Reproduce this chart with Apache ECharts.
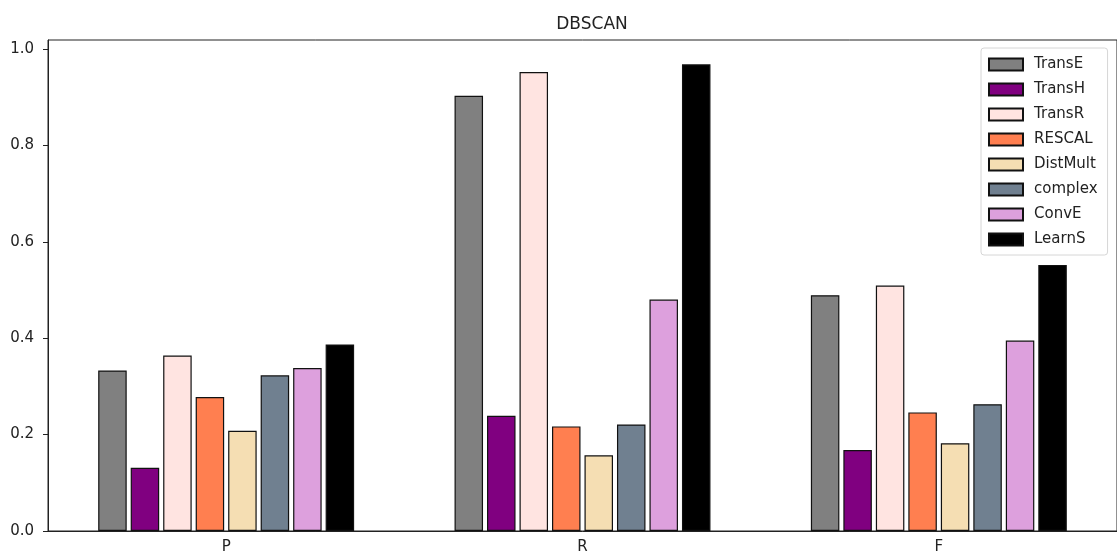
<!DOCTYPE html>
<html>
<head>
<meta charset="utf-8">
<title>DBSCAN</title>
<script src="https://cdn.jsdelivr.net/npm/echarts@6/dist/echarts.min.js"></script>
<style>
  html, body { margin: 0; padding: 0; background: #fff; }
  #chart { width: 1117px; height: 559px; }
</style>
</head>
<body>
<div id="chart"></div>
<script>
// Metrics on the x axis
const categories = ['P', 'R', 'F'];

// Scores per embedding method, in order P, R, F
const transE   = [0.333, 0.903, 0.489];
const transH   = [0.131, 0.239, 0.168];
const transR   = [0.364, 0.952, 0.509];
const rescal   = [0.278, 0.217, 0.246];
const distMult = [0.208, 0.157, 0.182];
const complexS = [0.323, 0.221, 0.263];
const convE    = [0.338, 0.480, 0.395];
const learnS   = [0.387, 0.968, 0.552];

// Y tick labels
const yTicks = [0, 0.2, 0.4, 0.6, 0.8, 1.0];

const seriesDefs = [
  { name: 'TransE',   data: transE,   color: '#808080' },
  { name: 'TransH',   data: transH,   color: '#800080' },
  { name: 'TransR',   data: transR,   color: '#FFE4E1' },
  { name: 'RESCAL',   data: rescal,   color: '#FF7F50' },
  { name: 'DistMult', data: distMult, color: '#F5DEB3' },
  { name: 'complex',  data: complexS, color: '#708090' },
  { name: 'ConvE',    data: convE,    color: '#DDA0DD' },
  { name: 'LearnS',   data: learnS,   color: '#000000' }
];

const font = 'DejaVu Sans';
const chart = echarts.init(document.getElementById('chart'), null, { renderer: 'canvas' });

chart.setOption({
  animation: false,
  backgroundColor: '#ffffff',
  title: {
    text: 'DBSCAN',
    left: 587,
    top: 11,
    textAlign: 'center',
    textStyle: { fontFamily: font, fontSize: 17, fontWeight: 'normal', color: '#222' }
  },
  legend: {
    orient: 'vertical',
    left: 981,
    top: 48,
    padding: [9, 10, 8, 7],
    itemWidth: 34,
    itemHeight: 12,
    itemGap: 10,
    icon: 'rect',
    borderColor: '#d6d6d6',
    borderWidth: 1,
    borderRadius: 3,
    backgroundColor: '#fff',
    textStyle: { fontFamily: font, fontSize: 15, color: '#222', lineHeight: 15, padding: [0, 0, 0, 6] },
    data: seriesDefs.map(s => s.name)
  },
  grid: {
    left: 48,
    top: 40,
    bottom: 28,
    right: -9,
    show: true,
    borderColor: '#222',
    borderWidth: 1,
    backgroundColor: 'transparent'
  },
  xAxis: {
    type: 'category',
    data: categories,
    axisLine: { lineStyle: { color: '#222', width: 1 } },
    axisTick: { alignWithLabel: true, length: 5, lineStyle: { color: '#222' } },
    axisLabel: { fontFamily: font, fontSize: 15, color: '#222', margin: 9 },
    splitLine: { show: false }
  },
  yAxis: {
    type: 'value',
    min: 0,
    max: 1.0185,
    axisLine: { show: true, lineStyle: { color: '#222', width: 1 } },
    axisTick: { show: true, length: 5, lineStyle: { color: '#222' }, customValues: yTicks },
    axisLabel: {
      fontFamily: font, fontSize: 15, color: '#222', margin: 14,
      customValues: yTicks,
      formatter: v => v.toFixed(1)
    },
    splitLine: { show: false }
  },
  series: seriesDefs.map(s => ({
    name: s.name,
    type: 'bar',
    data: s.data,
    barWidth: 28.5,
    barGap: '14%',
    itemStyle: { color: s.color, borderColor: '#111', borderWidth: 1.2 },
    emphasis: { disabled: true }
  }))
});
</script>
</body>
</html>
